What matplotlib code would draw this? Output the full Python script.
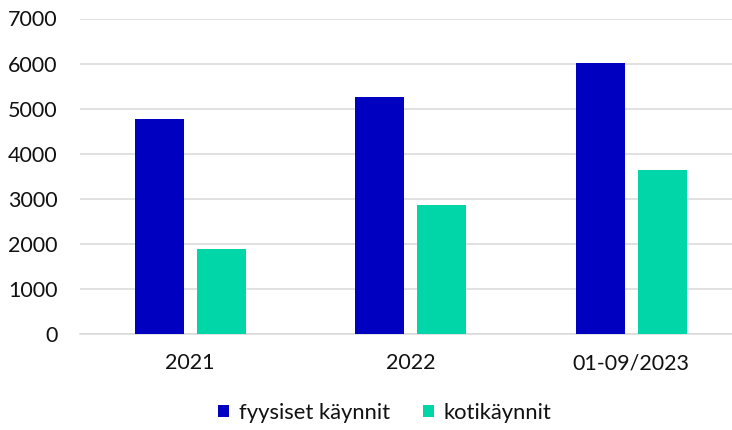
import matplotlib
matplotlib.use("Agg")
import matplotlib.pyplot as plt
import numpy as np

# Data
categories = ["2021", "2022", "01-09/2023"]
fyysiset = [4770, 5260, 6020]
kotikaynnit = [1885, 2870, 3640]
series_names = ["fyysiset käynnit", "kotikäynnit"]
yticks = [0, 1000, 2000, 3000, 4000, 5000, 6000, 7000]

plt.rcParams['font.family'] = ['Lato', 'DejaVu Sans']

fig = plt.figure(figsize=(7.32, 4.30), dpi=100)
# plot area placed in pixels of the 732x430 picture
ax = fig.add_axes([80 / 732, 96 / 430, (732 - 80) / 732, (334 - 18.5) / 430])

x = np.arange(len(categories))
width = 0.222
offset = 0.1406
ax.bar(x - offset, fyysiset, width, color="#0000C0", label=series_names[0], zorder=3)
ax.bar(x + offset, kotikaynnit, width, color="#00D6A8", label=series_names[1], zorder=3)

ax.set_xlim(-0.5, -0.5 + (732 - 80) / 220.5)
ax.set_ylim(0, 7000)
ax.set_yticks(yticks)
ax.set_xticks(x)
ax.set_xticklabels(categories)

ax.grid(axis="y", color="#d9d9d9", linewidth=1.1, zorder=0)
for side in ["top", "right", "left"]:
    ax.spines[side].set_visible(False)
ax.spines["bottom"].set_color("#d9d9d9")
ax.spines["bottom"].set_linewidth(1.1)
ax.tick_params(axis="y", length=0, pad=16, labelsize=15.5, labelcolor="#111111")
ax.tick_params(axis="x", length=0, pad=14, labelsize=15.5, labelcolor="#111111")

fig.legend(loc="center", bbox_to_anchor=(385 / 732, 1 - 413 / 430), ncol=2,
           frameon=False, fontsize=15.8, handlelength=0.5, handleheight=0.5,
           handletextpad=0.45, columnspacing=1.5, labelcolor="#111111")

fig.savefig("out.png", dpi=100)
